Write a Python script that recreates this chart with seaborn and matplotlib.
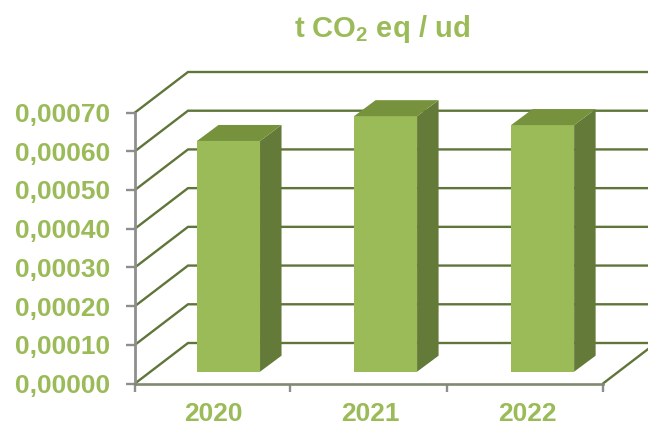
import matplotlib
matplotlib.use("Agg")
import matplotlib.pyplot as plt
from matplotlib.patches import Polygon
from matplotlib.ticker import FixedLocator
import seaborn as sns

years = ["2020", "2021", "2022"]
values = [0.000596, 0.000660, 0.000637]
y_ticks = [0.0, 0.0001, 0.0002, 0.0003, 0.0004, 0.0005, 0.0006, 0.0007]
y_labels = ["0,00000", "0,00010", "0,00020", "0,00030", "0,00040", "0,00050", "0,00060", "0,00070"]
title = r"t CO$_{\mathbf{2}}$ eq / ud"

GREEN = "#9BBB59"
SIDE = "#647A38"
TOP = "#76923C"
GRID = "#5F7539"
AXIS = "#8E8E8E"

sns.set_theme(style="white")
plt.rcParams["font.family"] = ["Liberation Sans", "DejaVu Sans"]
plt.rcParams["mathtext.fontset"] = "custom"
plt.rcParams["mathtext.bf"] = "Liberation Sans:bold"
plt.rcParams["mathtext.rm"] = "Liberation Sans:bold"

W, H = 648, 425
fig = plt.figure(figsize=(W / 100, H / 100), dpi=100, facecolor="white")
L, R, B, T = 135, 603, 383.5, 112.5
ax = fig.add_axes([L / W, 1 - B / H, (R - L) / W, (B - T) / H])

x_end = 2.48
sns.barplot(x=years, y=values, color=GREEN, saturation=1, width=63 / 157, ax=ax, zorder=3)
ax.set_xlim(-0.5, x_end)
ax.set_ylim(0, 0.0007)

px_x = (x_end + 0.5) / (R - L)
px_y = 0.0007 / (B - T)

# perspective offsets, in pixels converted to data units
wall_dx, wall_dy = 53 * px_x, 40.5 * px_y
shift_dx, shift_dy = 15 * px_x, 11.8 * px_y
bar_dx, bar_dy = 21.5 * px_x, 16 * px_y

# wall / floor grid lines
for v in y_ticks:
    ax.plot([-0.5, -0.5 + wall_dx, x_end + wall_dx + 1], [v, v + wall_dy, v + wall_dy],
            color=GRID, lw=1.7, zorder=1, clip_on=False, solid_joinstyle="miter")
ax.plot([x_end, x_end + wall_dx], [0, wall_dy], color=GRID, lw=1.7, zorder=1, clip_on=False)

# bar faces
for bar in ax.patches[:len(values)]:
    bar.set_x(bar.get_x() + shift_dx)
    bar.set_y(shift_dy)
    bar.set_linewidth(0)
    bar.set_clip_on(False)
    x0 = bar.get_x()
    x1 = x0 + bar.get_width()
    y0 = bar.get_y()
    y1 = y0 + bar.get_height()
    ax.add_patch(Polygon([(x1, y0), (x1 + bar_dx, y0 + bar_dy), (x1 + bar_dx, y1 + bar_dy), (x1, y1)],
                         closed=True, fc=SIDE, ec="none", zorder=3, clip_on=False))
    ax.add_patch(Polygon([(x0, y1), (x0 + bar_dx, y1 + bar_dy), (x1 + bar_dx, y1 + bar_dy), (x1, y1)],
                         closed=True, fc=TOP, ec="none", zorder=3, clip_on=False))

# axes
sns.despine(ax=ax, top=True, right=True)
ax.spines["left"].set_color(AXIS)
ax.spines["left"].set_linewidth(2.0)
ax.spines["bottom"].set_color("#808A70")
ax.spines["bottom"].set_linewidth(1.9)
ax.set_zorder(2)

ax.set_yticks(y_ticks)
ax.set_yticklabels(y_labels, fontsize=19, fontweight="bold", color=GREEN)
ax.tick_params(axis="y", length=6.5, width=1.7, color=AXIS, pad=11.5, left=True)
ax.set_xticks(range(len(years)))
ax.set_xticklabels(years, fontsize=19, fontweight="bold", color=GREEN)
ax.xaxis.set_minor_locator(FixedLocator([-0.5, 0.49, 1.485, x_end]))
ax.tick_params(axis="x", which="major", length=0, pad=13, bottom=False)
ax.tick_params(axis="x", which="minor", length=6, width=1.7, color=AXIS, bottom=True)
ax.set_xlabel("")
ax.set_ylabel("")

fig.text(382 / W, 1 - 37 / H, title, fontsize=21, fontweight="bold", color=GREEN, ha="center", va="baseline")

fig.savefig("out.png", dpi=100, facecolor="white")
